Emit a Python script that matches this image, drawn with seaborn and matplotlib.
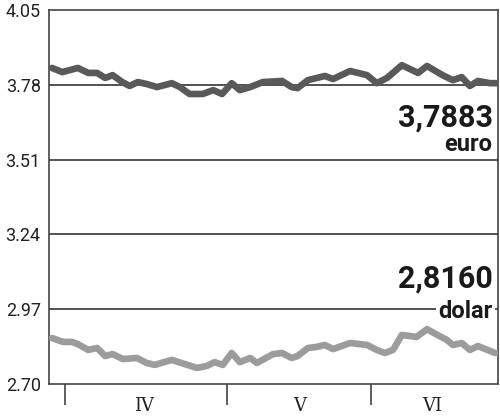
import pandas as pd
import matplotlib
matplotlib.use('Agg')
import matplotlib.pyplot as plt
import matplotlib.transforms as mtransforms
import seaborn as sns

# --- Data ---
# x = trading session index since the start of the window
EURO_X = [0.0, 1.4, 3.5, 4.9, 6.1, 7.2, 8.2, 9.5, 10.5, 11.6, 12.8, 14.2, 16.2, 17.3,
          18.6, 20.4, 21.8, 23.0, 24.3, 25.4, 26.8, 28.5, 31.1, 32.4, 33.2, 34.6, 36.9,
          38.0, 40.3, 42.6, 43.9, 45.3, 47.3, 49.5, 50.7, 52.8, 54.2, 55.4, 56.5, 57.6,
          59.2, 60.3]
EURO_Y = [3.841, 3.826, 3.841, 3.823, 3.823, 3.805, 3.815, 3.790, 3.776, 3.790, 3.783,
          3.772, 3.786, 3.772, 3.747, 3.747, 3.761, 3.747, 3.786, 3.761, 3.772, 3.790,
          3.794, 3.772, 3.768, 3.797, 3.812, 3.801, 3.830, 3.815, 3.786, 3.805, 3.851,
          3.823, 3.848, 3.815, 3.797, 3.808, 3.776, 3.794, 3.786, 3.786]

DOLAR_X = [0.0, 1.5, 2.7, 3.5, 4.9, 6.1, 7.2, 8.2, 9.6, 11.5, 12.8, 13.9, 16.2, 19.6,
           20.9, 22.0, 23.1, 24.3, 25.4, 26.8, 27.7, 29.9, 31.1, 32.4, 33.2, 34.6, 35.8,
           36.9, 38.0, 40.3, 42.6, 43.9, 45.0, 46.1, 47.3, 49.3, 50.7, 52.4, 53.4, 54.2,
           55.4, 56.5, 57.6, 59.9]
DOLAR_Y = [2.866, 2.852, 2.852, 2.844, 2.823, 2.830, 2.801, 2.808, 2.790, 2.794, 2.776,
           2.769, 2.787, 2.758, 2.765, 2.779, 2.769, 2.812, 2.779, 2.794, 2.776, 2.808,
           2.812, 2.794, 2.801, 2.830, 2.834, 2.841, 2.826, 2.848, 2.841, 2.823, 2.812,
           2.823, 2.877, 2.870, 2.898, 2.873, 2.859, 2.841, 2.848, 2.823, 2.837, 2.812]

Y_TICKS = [2.70, 2.97, 3.24, 3.51, 3.78, 4.05]
MONTH_BOUNDS = [1.8, 23.6, 43.1]
MONTH_CENTERS = [12.4, 33.5, 51.4]
MONTH_LABELS = ['IV', 'V', 'VI']

LAST_VALUES = ['3,7883', '2,8160']
SERIES_NAMES = ['euro', 'dolar']

df = pd.concat([
    pd.DataFrame({'x': EURO_X, 'y': EURO_Y, 'waluta': 'euro'}),
    pd.DataFrame({'x': DOLAR_X, 'y': DOLAR_Y, 'waluta': 'dolar'}),
])

sns.set_style('white')
plt.rcParams['font.family'] = ['Roboto', 'DejaVu Sans']

fig = plt.figure(figsize=(5.0, 4.19), dpi=100)
ax = fig.add_axes([0.098, 0.0835, 0.898, 0.8925])

# gridlines first so lines sit on top
for yv in Y_TICKS[1:-1]:
    ax.axhline(yv, color='#222222', lw=1.1, zorder=1)

sns.lineplot(data=df, x='x', y='y', hue='waluta',
             palette={'euro': '#595959', 'dolar': '#9c9c9c'},
             linewidth=4.8, legend=False, ax=ax, zorder=3)

ax.set_xlim(-0.4, 60.3)
ax.set_ylim(2.70, 4.05)
ax.set_yticks(Y_TICKS)
ax.set_yticklabels([f'{v:.2f}' for v in Y_TICKS], fontsize=13, color='#222222')
ax.tick_params(axis='y', left=False, length=0, pad=6)
ax.set_xticks(MONTH_BOUNDS)
ax.set_xticklabels([])
ax.tick_params(axis='x', bottom=True, direction='out', length=15, width=1.1, color='#333333')
ax.set_xlabel('')
ax.set_ylabel('')

for side in ['left', 'right', 'top', 'bottom']:
    ax.spines[side].set_visible(True)
    ax.spines[side].set_color('#444444')
    ax.spines[side].set_linewidth(1.2)

trans = mtransforms.blended_transform_factory(ax.transData, ax.transAxes)
for xc, lab in zip(MONTH_CENTERS, MONTH_LABELS):
    ax.text(xc, -0.058, lab, transform=trans, ha='center', va='center',
            fontsize=13, family=['DejaVu Serif'], color='#222222')

# last value annotations
ytr = ax.get_yaxis_transform()
ax.text(0.988, 3.662, LAST_VALUES[0], transform=ytr,
        ha='right', va='center', fontsize=22, fontweight='bold', color='#1a1a1a', zorder=4)
ax.text(0.988, 3.565, SERIES_NAMES[0], transform=ytr,
        ha='right', va='center', fontsize=17, fontweight='bold', color='#1a1a1a', zorder=4)
ax.text(0.988, 3.081, LAST_VALUES[1], transform=ytr,
        ha='right', va='center', fontsize=22, fontweight='bold', color='#1a1a1a', zorder=4)
ax.text(0.988, 2.962, SERIES_NAMES[1], transform=ytr,
        ha='right', va='center', fontsize=17, fontweight='bold', color='#1a1a1a', zorder=4,
        bbox=dict(facecolor='white', edgecolor='none', pad=1.5))

fig.savefig('out.png', dpi=100)
